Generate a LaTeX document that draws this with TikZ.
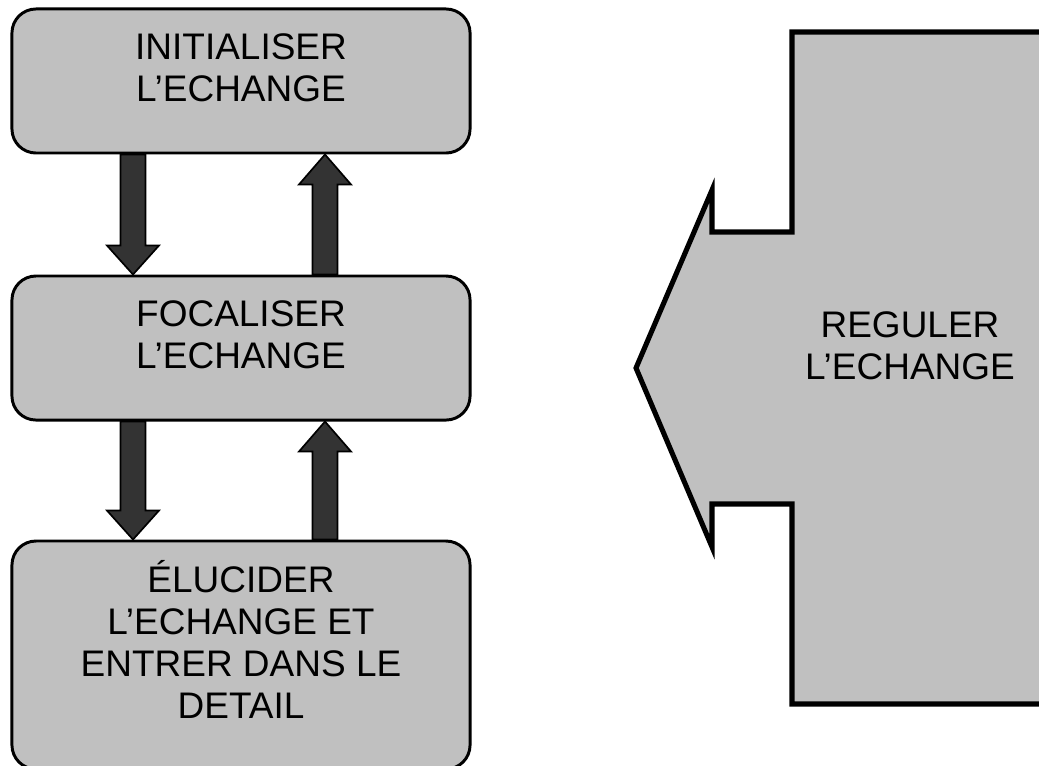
\documentclass[tikz,border=0pt]{standalone}
\usepackage{fontspec}
\setmainfont{Liberation Sans}
\usepackage{tikz}
\usetikzlibrary{positioning, calc, backgrounds}
\definecolor{boxGray}{HTML}{C0C0C0}
\definecolor{arrowDark}{HTML}{333333}

% block arrow: tail anchor, tip anchor, x offset, signed head length
\newcommand\blockarrow[4]{%
  \draw[flowarrow]
    ($(#1)+({#3-12.5},0)$) -- ($(#2)+({#3-12.5},#4)$) -- ($(#2)+({#3-26},#4)$)
    -- ($(#2)+(#3,0)$) -- ($(#2)+({#3+26},#4)$) -- ($(#2)+({#3+12.5},#4)$)
    -- ($(#1)+({#3+12.5},0)$) -- cycle;
}

\begin{document}
\begin{tikzpicture}[
  x=0.025cm, y=-0.025cm,
  every node/.style={font=\fontsize{26.3}{29.9}\selectfont},
  stagebox/.style={
    rectangle, rounded corners=0.6cm,
    minimum width=11.45cm, minimum height=3.6cm,
    draw=black, line width=2.1pt,
    fill=boxGray, align=center, text depth=0.65cm
  },
  flowarrow/.style={
    draw=black, line width=1.2pt, fill=arrowDark, line join=miter
  },
  regshape/.style={
    draw=black, line width=3.6pt, fill=boxGray, line join=miter
  },
]
\useasboundingbox (0,0) rectangle (1039,766);

% === Stages ===
\node[stagebox] (init) at (241,81) {INITIALISER\\L’ECHANGE};
\node[stagebox, below=3cm of init] (focus) {FOCALISER\\L’ECHANGE};
\node[stagebox, below=2.95cm of focus, minimum height=5.7cm, text depth=0.8cm] (detail)
  {ÉLUCIDER\\L’ECHANGE ET\\ENTRER DANS LE\\DETAIL};

% === Flow arrows ===
\begin{scope}[on background layer]
\foreach \a/\b in {init/focus, focus/detail} {
  \blockarrow{\a.south}{\b.north}{-108}{-29}
  \blockarrow{\b.north}{\a.south}{84}{30}
}
\end{scope}

% === Regulation arrow ===
\draw[regshape] (1060,32) -- (792,32) -- (792,232) -- (712,232) -- (712,190)
  -- (636,368) -- (712,547) -- (712,504) -- (792,504) -- (792,704) -- (1060,704) -- cycle;
\node[align=center] (regulate) at (910,346) {REGULER\\L’ECHANGE};

\end{tikzpicture}
\end{document}
